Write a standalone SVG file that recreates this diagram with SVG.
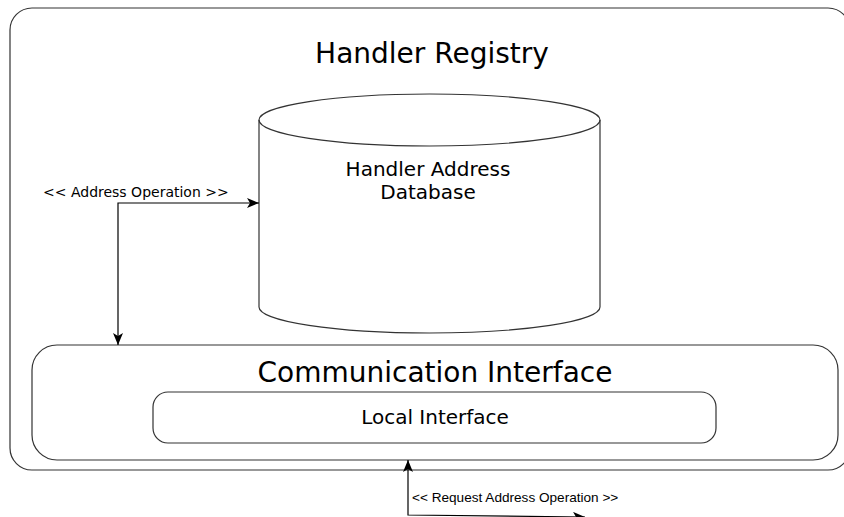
<svg xmlns="http://www.w3.org/2000/svg" width="844" height="517" viewBox="0 0 844 517">
<style>
.box{fill:#fff;stroke:#333;stroke-width:1.2}
.t{font-family:"DejaVu Sans",sans-serif;fill:#000;text-anchor:middle}
.c{fill:none;stroke:#000;stroke-width:1.2}
</style>
<defs>
<marker id="ah" viewBox="0 0 12 10" refX="12" refY="5" markerWidth="12" markerHeight="10" markerUnits="userSpaceOnUse" orient="auto-start-reverse">
<path d="M0,0 L12,5 L0,10 L3,5 Z" fill="#000"/>
</marker>
</defs>
<g id="registry">
<rect class="box" x="10" y="8" width="840" height="462" rx="22"/>
<text class="t" x="432" y="63" font-size="28">Handler Registry</text>
</g>
<g id="database">
<path class="box" d="M259,120 L259,307 A170.5,26 0 0 0 600,307 L600,120 A170.5,26 0 0 0 259,120 Z"/>
<path class="c" style="stroke:#333" d="M259,120 A170.5,26 0 0 0 600,120"/>
<text class="t" x="428" y="176" font-size="20">Handler Address</text>
<text class="t" x="428" y="199" font-size="20">Database</text>
</g>
<g id="comm">
<rect class="box" x="32" y="345" width="806" height="115" rx="25"/>
<text class="t" x="435" y="382" font-size="28">Communication Interface</text>
</g>
<g id="local">
<rect class="box" x="153" y="392" width="563" height="51" rx="15"/>
<text class="t" x="435" y="424" font-size="20">Local Interface</text>
</g>
<g id="connectors">
<path class="c" d="M118,345 L118,203 L259,203" marker-start="url(#ah)" marker-end="url(#ah)"/>
<text x="43" y="197" font-family="DejaVu Sans,sans-serif" font-size="14">&lt;&lt; Address Operation &gt;&gt;</text>
<path class="c" d="M408,460 L408,515 L585,517" marker-start="url(#ah)" marker-end="url(#ah)"/>
<text x="412" y="502" font-family="Liberation Sans,Arial,sans-serif" font-size="13.6">&lt;&lt; Request Address Operation &gt;&gt;</text>
</g>
</svg>
